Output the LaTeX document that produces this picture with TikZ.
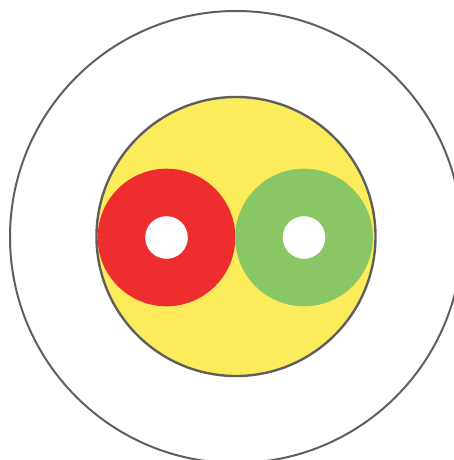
\documentclass[tikz,border=0pt]{standalone}
\definecolor{ringgray}{HTML}{5F5F5F}
\definecolor{fillyellow}{HTML}{FCEC5C}
\definecolor{ringred}{HTML}{EE2E2E}
\definecolor{ringgreen}{HTML}{88C764}
\begin{document}
\begin{tikzpicture}[x=1pt,y=-1pt,
  outline/.style={draw=ringgray,line width=2.2pt},
  core/.style={fill=white}]
\useasboundingbox (0,0) rectangle (454,460);
\clip (0,0) rectangle (454,460);
\fill[white] (0,0) rectangle (454,460);
% outer jacket
\draw[outline, line width=2pt] (236,237) circle (226);
% yellow filler
\fill[fillyellow] (236,236.5) circle (139.5);
% red conductor
\fill[ringred] (166.5,237.5) circle (68.8);
\fill[core] (166.5,237.5) circle (21.3);
% green conductor
\fill[ringgreen] (304,237.5) circle (68.8);
\fill[core] (304,237.5) circle (21.3);
% inner sheath outline
\draw[outline, line width=2.4pt] (236,236.5) circle (139.5);
\end{tikzpicture}
\end{document}
